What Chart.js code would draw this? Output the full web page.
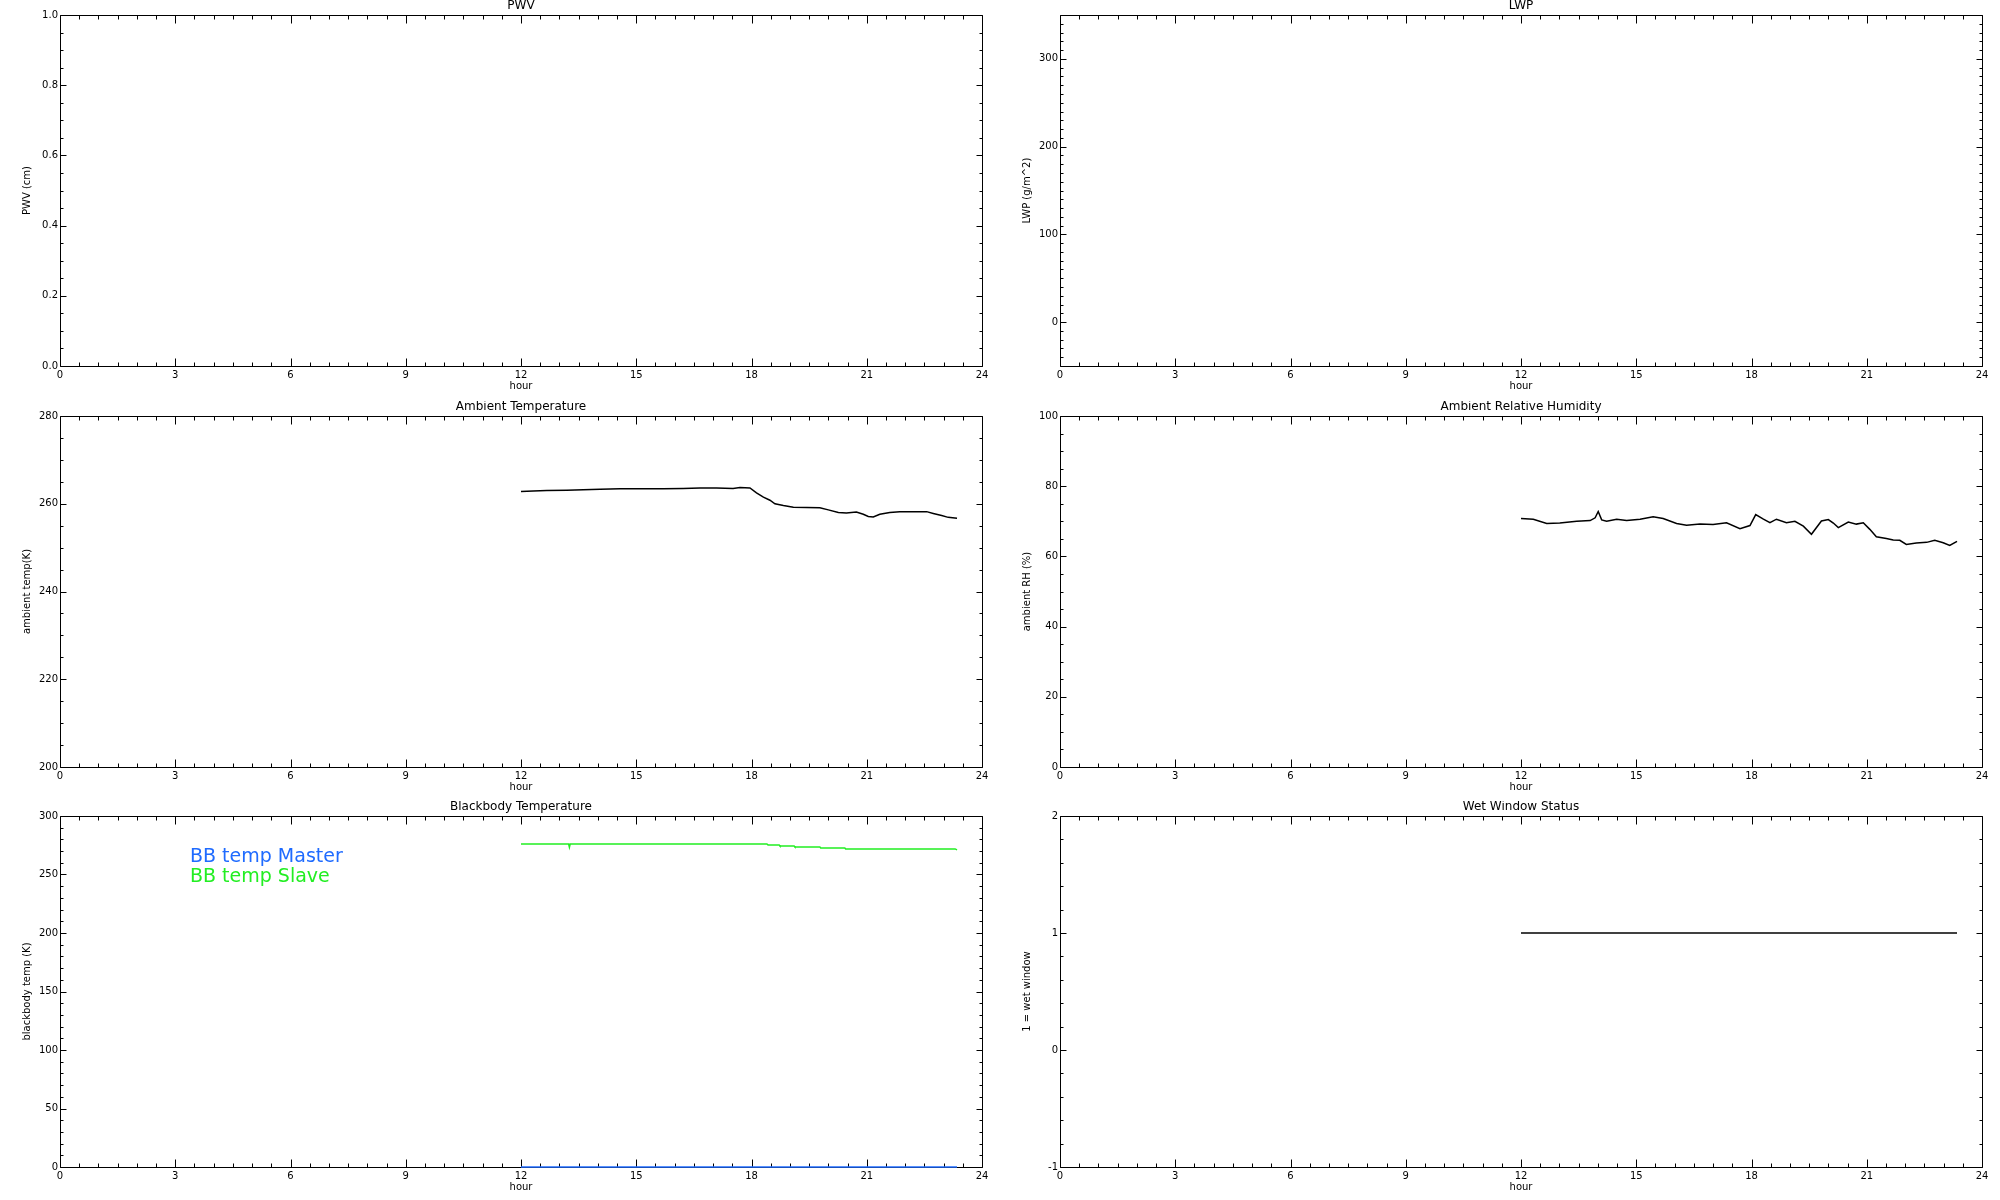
<!DOCTYPE html>
<html>
<head>
<meta charset="utf-8">
<script src="https://cdn.jsdelivr.net/npm/chart.js@4.4.1/dist/chart.umd.min.js"></script>
<style>
  html, body { margin: 0; padding: 0; background: #fff; overflow: hidden; }
  #page { position: relative; width: 2000px; height: 1200px; }
  canvas { position: absolute; }
</style>
</head>
<body>
<div id="page">
  <canvas id="pwv" width="1000" height="400" style="left:0;top:0"></canvas>
  <canvas id="lwp" width="1000" height="400" style="left:1000px;top:0"></canvas>
  <canvas id="temp" width="1000" height="400" style="left:0;top:401px"></canvas>
  <canvas id="rh" width="1000" height="400" style="left:1000px;top:401px"></canvas>
  <canvas id="bb" width="1000" height="400" style="left:0;top:801px"></canvas>
  <canvas id="wet" width="1000" height="400" style="left:1000px;top:801px"></canvas>
</div>
<script>
// x axis (hour of day)
const hourTicks = [0, 3, 6, 9, 12, 15, 18, 21, 24];

// y tick labels for each panel
const pwvTicks = [0, 0.2, 0.4, 0.6, 0.8, 1.0];
const lwpTicks = [0, 100, 200, 300];
const tempTicks = [200, 220, 240, 260, 280];
const rhTicks = [0, 20, 40, 60, 80, 100];
const bbTicks = [0, 50, 100, 150, 200, 250, 300];
const wetTicks = [-1, 0, 1, 2];

// ambient temperature (K)
const tempHour = [12.00, 12.32, 12.67, 13.19, 13.62, 14.06, 14.58, 15.10, 15.70, 16.22,
  16.66, 17.09, 17.52, 17.70, 17.96, 18.13, 18.31, 18.48, 18.61, 18.83,
  19.09, 19.78, 20.00, 20.26, 20.47, 20.73, 20.91, 21.04, 21.17, 21.34,
  21.60, 21.86, 22.56, 22.73, 22.95, 23.12, 23.35];
const tempK = [262.8, 262.9, 263.0, 263.1, 263.2, 263.3, 263.4, 263.4, 263.4, 263.5,
  263.6, 263.6, 263.5, 263.7, 263.6, 262.5, 261.5, 260.8, 260.0, 259.6,
  259.2, 259.1, 258.6, 258.0, 257.9, 258.1, 257.6, 257.1, 257.0, 257.6,
  258.0, 258.2, 258.2, 257.8, 257.3, 256.9, 256.7];

// ambient relative humidity (%)
const rhHour = [12.00, 12.32, 12.67, 13.01, 13.45, 13.80, 13.93, 14.01, 14.10, 14.23,
  14.49, 14.75, 15.10, 15.44, 15.70, 16.05, 16.31, 16.66, 17.00, 17.35,
  17.70, 17.96, 18.11, 18.31, 18.48, 18.65, 18.91, 19.13, 19.35, 19.56,
  19.82, 20.00, 20.13, 20.26, 20.52, 20.73, 20.91, 21.08, 21.25, 21.51,
  21.69, 21.86, 22.03, 22.29, 22.56, 22.77, 22.99, 23.16, 23.35];
const rhPct = [70.8, 70.6, 69.4, 69.5, 70.0, 70.2, 71.0, 72.8, 70.4, 70.0,
  70.6, 70.2, 70.6, 71.3, 70.8, 69.4, 68.9, 69.2, 69.1, 69.6,
  67.9, 68.8, 71.9, 70.6, 69.6, 70.6, 69.6, 70.0, 68.6, 66.3,
  70.1, 70.5, 69.5, 68.2, 69.8, 69.2, 69.6, 67.7, 65.6, 65.1,
  64.7, 64.6, 63.4, 63.8, 64.0, 64.6, 63.9, 63.1, 64.3];

// blackbody temperatures (K)
const bbSlaveHour = [12.00, 13.24, 13.26, 13.28, 18.40, 18.43, 18.72, 18.74, 19.11, 19.13,
  19.78, 19.80, 20.43, 20.45, 23.30, 23.35];
const bbSlaveK = [276.1, 276.1, 273.3, 276.1, 276.1, 275.3, 275.3, 274.4, 274.4, 273.6,
  273.6, 272.7, 272.7, 271.9, 271.9, 271.0];
const bbMasterHour = [12.00, 23.35];
const bbMasterK = [0, 0];

// wet window flag
const wetHour = [12.00, 23.35];
const wetFlag = [1, 1];

function pts(xs, ys) {
  return xs.map((h, i) => ({ x: h, y: ys[i] }));
}

function lineSet(xs, ys, color) {
  return {
    data: pts(xs, ys),
    borderColor: color,
    borderWidth: 1.5,
    pointRadius: 0,
    tension: 0,
    fill: false,
    clip: 3
  };
}

// box, inward ticks on all four sides, title and text legend (IDL style)
// drawn before the data so the curves sit on top, like oplot
const idlFrame = {
  id: 'idlFrame',
  beforeDatasetsDraw(chart, args, opts) {
    const { ctx, chartArea: a, scales: { x, y } } = chart;
    const L = Math.round(a.left) + 0.5, R = Math.round(a.right) + 0.5;
    const T = Math.round(a.top) + 0.5, B = Math.round(a.bottom) + 0.5;
    ctx.save();
    ctx.strokeStyle = '#000';
    ctx.lineWidth = 1;
    ctx.beginPath();
    ctx.rect(L, T, R - L, B - T);
    // hour ticks, minor every half hour
    for (let i = 0; i <= 48; i++) {
      const px = Math.round(x.getPixelForValue(i / 2)) + 0.5;
      const len = i % 6 === 0 ? 8 : 4;
      ctx.moveTo(px, B); ctx.lineTo(px, B - len);
      ctx.moveTo(px, T); ctx.lineTo(px, T + len);
    }
    // value ticks
    const n = Math.round((opts.max - opts.min) / opts.minor);
    for (let i = 0; i <= n; i++) {
      const v = opts.min + i * opts.minor;
      const py = Math.round(y.getPixelForValue(v)) + 0.5;
      const major = opts.ticks.some(t => Math.abs(t - v) < 1e-6);
      const len = major ? 6 : 3;
      ctx.moveTo(L, py); ctx.lineTo(L + len, py);
      ctx.moveTo(R, py); ctx.lineTo(R - len, py);
    }
    ctx.stroke();

    ctx.fillStyle = '#000';
    ctx.font = '12px "DejaVu Sans"';
    ctx.textAlign = 'center';
    ctx.textBaseline = 'middle';
    ctx.fillText(opts.title, (a.left + a.right) / 2, a.top - 9);

    if (opts.legend) {
      ctx.font = '19px "DejaVu Sans"';
      ctx.textAlign = 'left';
      opts.legend.forEach((item, i) => {
        ctx.fillStyle = item.color;
        ctx.fillText(item.text, a.left + 130, a.top + 41 + i * 20);
      });
    }
    ctx.restore();
  }
};

function makePanel(id, cfg) {
  new Chart(document.getElementById(id), {
    type: 'line',
    data: { datasets: cfg.datasets },
    plugins: [idlFrame],
    options: {
      responsive: false,
      animation: false,
      events: [],
      layout: { padding: { top: 15, right: 18, left: 0, bottom: 0 } },
      plugins: {
        legend: { display: false },
        tooltip: { enabled: false },
        idlFrame: {
          title: cfg.title,
          min: cfg.min,
          max: cfg.max,
          minor: cfg.minor,
          ticks: cfg.ticks,
          legend: cfg.legend
        }
      },
      scales: {
        x: {
          type: 'linear',
          min: 0,
          max: 24,
          grid: { display: false, drawTicks: false },
          border: { display: false },
          afterBuildTicks: s => { s.ticks = hourTicks.map(v => ({ value: v })); },
          afterFit: s => { s.height = 34; },
          ticks: {
            color: '#000',
            padding: 3,
            maxRotation: 0,
            font: { family: 'DejaVu Sans', size: 10 }
          },
          title: {
            display: true,
            text: 'hour',
            color: '#000',
            font: { family: 'DejaVu Sans', size: 10 },
            padding: { top: 0, bottom: 8 }
          }
        },
        y: {
          type: 'linear',
          min: cfg.min,
          max: cfg.max,
          grid: { display: false, drawTicks: false },
          border: { display: false },
          afterBuildTicks: s => { s.ticks = cfg.ticks.map(v => ({ value: v })); },
          afterFit: s => { s.width = 60; },
          ticks: {
            color: '#000',
            padding: 2,
            font: { family: 'DejaVu Sans', size: 10 },
            callback: v => cfg.fmt ? cfg.fmt(v) : String(v)
          },
          title: {
            display: true,
            text: cfg.yTitle,
            color: '#000',
            font: { family: 'DejaVu Sans', size: 10 },
            padding: { top: 21, bottom: 0 }
          }
        }
      }
    }
  });
}

makePanel('pwv', {
  title: 'PWV', yTitle: 'PWV (cm)', min: 0, max: 1, minor: 0.05,
  ticks: pwvTicks, fmt: v => v.toFixed(1), datasets: []
});
makePanel('lwp', {
  title: 'LWP', yTitle: 'LWP (g/m^2)', min: -50, max: 350, minor: 10,
  ticks: lwpTicks, datasets: []
});
makePanel('temp', {
  title: 'Ambient Temperature', yTitle: 'ambient temp(K)', min: 200, max: 280, minor: 5,
  ticks: tempTicks, datasets: [lineSet(tempHour, tempK, '#000')]
});
makePanel('rh', {
  title: 'Ambient Relative Humidity', yTitle: 'ambient RH (%)', min: 0, max: 100, minor: 5,
  ticks: rhTicks, datasets: [lineSet(rhHour, rhPct, '#000')]
});
makePanel('bb', {
  title: 'Blackbody Temperature', yTitle: 'blackbody temp (K)', min: 0, max: 300, minor: 10,
  ticks: bbTicks,
  datasets: [lineSet(bbMasterHour, bbMasterK, '#1f6bff'), lineSet(bbSlaveHour, bbSlaveK, '#22ee22')],
  legend: [{ text: 'BB temp Master', color: '#1f6bff' }, { text: 'BB temp Slave', color: '#22ee22' }]
});
makePanel('wet', {
  title: 'Wet Window Status', yTitle: '1 = wet window', min: -1, max: 2, minor: 0.2,
  ticks: wetTicks, datasets: [lineSet(wetHour, wetFlag, '#000')]
});
</script>
</body>
</html>
